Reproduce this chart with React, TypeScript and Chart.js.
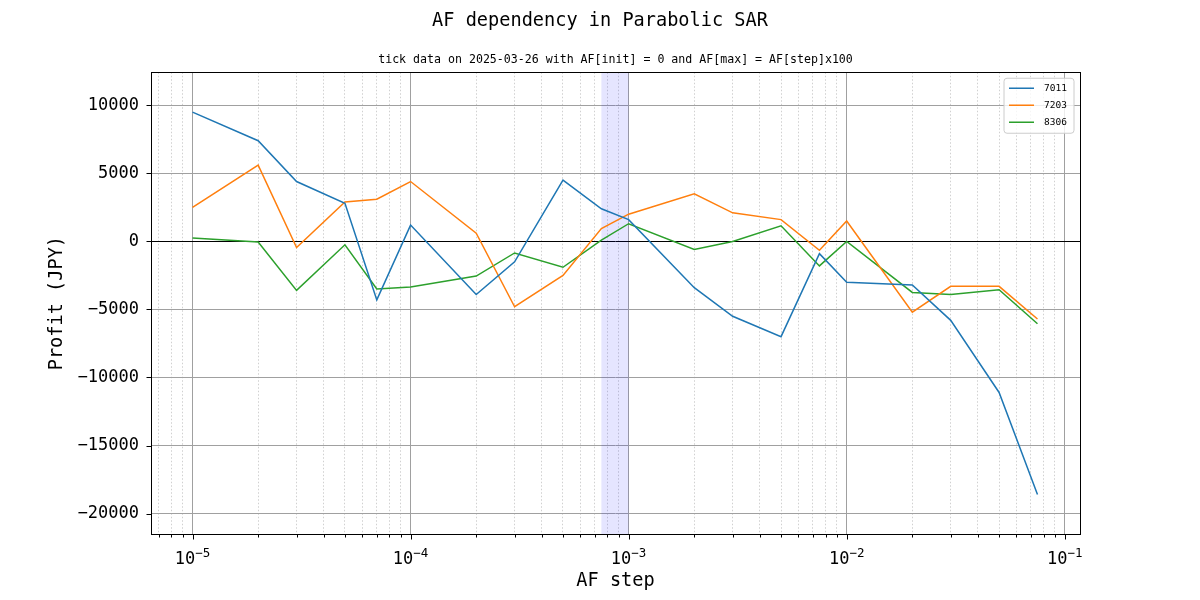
import React, { useEffect, useRef } from "react";
import { Chart, registerables } from "chart.js";

Chart.register(...registerables);

// ---- data ----
const afSteps = [1e-5, 2e-5, 3e-5, 5e-5, 7e-5, 1e-4, 2e-4, 3e-4, 5e-4, 7.5e-4, 1e-3, 2e-3, 3e-3, 5e-3, 7.5e-3, 1e-2, 2e-2, 3e-2, 5e-2, 7.5e-2];
const profit7011 = [9500, 7400, 4400, 2800, -4300, 1200, -3900, -1500, 4500, 2400, 1600, -3400, -5500, -7000, -900, -3000, -3200, -5800, -11100, -18600];
const profit7203 = [2500, 5600, -450, 2900, 3100, 4400, 600, -4800, -2500, 950, 2000, 3500, 2100, 1600, -650, 1500, -5200, -3300, -3300, -5700];
const profit8306 = [250, -50, -3600, -250, -3500, -3350, -2550, -850, -1900, 100, 1300, -600, 0, 1150, -1800, 0, -3750, -3900, -3550, -6050];
const seriesNames = ["7011", "7203", "8306"];
const seriesValues = [profit7011, profit7203, profit8306];
const seriesColors = ["#1f77b4", "#ff7f0e", "#2ca02c"];

const decades = [1e-6, 1e-5, 1e-4, 1e-3, 1e-2, 1e-1];
const minorMultipliers = [2, 3, 4, 5, 6, 7, 8, 9];
const yTicks = [-20000, -15000, -10000, -5000, 0, 5000, 10000];
const spanRange = [7.5e-4, 1e-3];
const xLimits = [6.45e-6, 0.1175];
const yLimits = [-21500, 12430];

const titleText = "AF dependency in Parabolic SAR";
const subtitleText = "tick data on 2025-03-26 with AF[init] = 0 and AF[max] = AF[step]x100";
const xTitle = "AF step";
const yTitle = "Profit (JPY)";

const FONT = "'DejaVu Sans Mono', 'Liberation Mono', monospace";

function isDecade(v: number) {
  const e = Math.round(Math.log10(v));
  return Math.abs(v / Math.pow(10, e) - 1) < 1e-6;
}

function xTickValues(): number[] {
  const out: number[] = [];
  decades.forEach((d) => {
    out.push(d);
    minorMultipliers.forEach((m) => out.push(d * m));
  });
  return out.filter((v) => v >= xLimits[0] && v <= xLimits[1]).sort((a, b) => a - b);
}

const spanPlugin = {
  id: "afSpan",
  beforeDatasetsDraw(chart: any) {
    const { ctx, chartArea, scales } = chart;
    const a = scales.x.getPixelForValue(spanRange[0]);
    const b = scales.x.getPixelForValue(spanRange[1]);
    ctx.save();
    ctx.fillStyle = "rgba(0,0,255,0.1)";
    ctx.fillRect(a, chartArea.top, b - a, chartArea.bottom - chartArea.top);
    ctx.restore();
  },
};

const framePlugin = {
  id: "frameTicks",
  afterDatasetsDraw(chart: any) {
    const { ctx, chartArea, scales } = chart;
    const { left, right, top, bottom } = chartArea;
    ctx.save();
    ctx.strokeStyle = "#000";
    ctx.lineWidth = 1;
    ctx.strokeRect(Math.round(left) + 0.5, Math.round(top) + 0.5, Math.round(right - left), Math.round(bottom - top));
    ctx.beginPath();
    scales.x.ticks.forEach((t: any) => {
      const px = Math.round(scales.x.getPixelForValue(t.value)) + 0.5;
      const len = isDecade(t.value) ? 5 : 3;
      ctx.moveTo(px, Math.round(bottom) + 0.5);
      ctx.lineTo(px, Math.round(bottom) + 0.5 + len);
    });
    scales.y.ticks.forEach((t: any) => {
      const py = Math.round(scales.y.getPixelForValue(t.value)) + 0.5;
      ctx.moveTo(Math.round(left) + 0.5, py);
      ctx.lineTo(Math.round(left) + 0.5 - 5, py);
    });
    ctx.stroke();
    ctx.restore();
  },
  afterDraw(chart: any) {
    const { ctx, chartArea, scales } = chart;
    // x decade labels: "10" with raised exponent
    ctx.save();
    ctx.fillStyle = "#000";
    ctx.textAlign = "left";
    ctx.textBaseline = "alphabetic";
    const baseY = chartArea.bottom + 30;
    scales.x.ticks.forEach((t: any) => {
      if (!isDecade(t.value)) return;
      const e = Math.round(Math.log10(t.value));
      const mant = "10";
      const expo = (e < 0 ? "\u2212" : "") + Math.abs(e);
      ctx.font = `17px ${FONT}`;
      const w1 = ctx.measureText(mant).width;
      ctx.font = `12.5px ${FONT}`;
      const w2 = ctx.measureText(expo).width;
      const px = scales.x.getPixelForValue(t.value);
      const x0 = px - (w1 + w2) / 2;
      ctx.font = `17px ${FONT}`;
      ctx.fillText(mant, x0, baseY);
      ctx.font = `12.5px ${FONT}`;
      ctx.fillText(expo, x0 + w1, baseY - 7);
    });
    ctx.restore();

    // legend
    const w = 70;
    const h = 55;
    const x0 = chartArea.right - 6 - w;
    const y0 = chartArea.top + 6;
    ctx.save();
    ctx.beginPath();
    const r = 3;
    ctx.moveTo(x0 + r, y0);
    ctx.lineTo(x0 + w - r, y0);
    ctx.quadraticCurveTo(x0 + w, y0, x0 + w, y0 + r);
    ctx.lineTo(x0 + w, y0 + h - r);
    ctx.quadraticCurveTo(x0 + w, y0 + h, x0 + w - r, y0 + h);
    ctx.lineTo(x0 + r, y0 + h);
    ctx.quadraticCurveTo(x0, y0 + h, x0, y0 + h - r);
    ctx.lineTo(x0, y0 + r);
    ctx.quadraticCurveTo(x0, y0, x0 + r, y0);
    ctx.closePath();
    ctx.fillStyle = "rgba(255,255,255,0.8)";
    ctx.fill();
    ctx.strokeStyle = "#cccccc";
    ctx.lineWidth = 1;
    ctx.stroke();
    ctx.font = `9.5px ${FONT}`;
    ctx.textBaseline = "middle";
    ctx.textAlign = "left";
    seriesNames.forEach((name, i) => {
      const yy = y0 + 10 + i * 17;
      ctx.strokeStyle = seriesColors[i];
      ctx.lineWidth = 1.5;
      ctx.beginPath();
      ctx.moveTo(x0 + 5, yy);
      ctx.lineTo(x0 + 30, yy);
      ctx.stroke();
      ctx.fillStyle = "#000";
      ctx.fillText(name, x0 + 40, yy);
    });
    ctx.restore();
  },
};

export default function App() {
  const canvasRef = useRef<HTMLCanvasElement | null>(null);

  useEffect(() => {
    document.body.style.margin = "0";
    const canvas = canvasRef.current;
    if (!canvas) return;
    Chart.defaults.color = "#000";
    Chart.defaults.font.family = FONT;

    const chart = new Chart(canvas, {
      type: "line",
      data: {
        datasets: seriesNames.map((name, i) => ({
          label: name,
          data: afSteps.map((x, j) => ({ x, y: seriesValues[i][j] })),
          borderColor: seriesColors[i],
          backgroundColor: seriesColors[i],
          borderWidth: 1.5,
          pointRadius: 0,
          tension: 0,
          fill: false,
          yAxisID: "y",
        })),
      },
      options: {
        animation: false,
        responsive: false,
        devicePixelRatio: 1,
        layout: { padding: { left: 0, right: 0, top: 0, bottom: 0 } },
        plugins: {
          legend: { display: false },
          tooltip: { enabled: false },
          title: {
            display: true,
            text: titleText,
            color: "#000",
            font: { family: FONT, size: 18.6, weight: "normal" },
            padding: { top: 10, bottom: 17 },
          },
          subtitle: {
            display: true,
            fullSize: false,
            text: subtitleText,
            color: "#000",
            font: { family: FONT, size: 11.6, weight: "normal" },
            padding: { top: 4, bottom: 5 },
          },
        },
        scales: {
          x: {
            type: "logarithmic",
            min: xLimits[0],
            max: xLimits[1],
            afterBuildTicks: (s: any) => {
              s.ticks = xTickValues().map((v) => ({ value: v }));
            },
            afterFit: (s: any) => {
              s.height = 66;
            },
            ticks: {
              autoSkip: false,
              maxRotation: 0,
              minRotation: 0,
              padding: 12,
              color: "#000",
              font: { family: FONT, size: 17 },
              callback: () => "",
            },
            grid: {
              drawTicks: false,
              color: (c: any) => (c.tick && isDecade(c.tick.value) ? "#a0a0a0" : "#c4c4c4"),
              lineWidth: (c: any) => (c.tick && isDecade(c.tick.value) ? 1 : 0.8),
            },
            border: {
              display: false,
              dash: (c: any) => (c.tick && isDecade(c.tick.value) ? [] : [1.5, 2]),
            },
            title: {
              display: true,
              text: xTitle,
              color: "#000",
              font: { family: FONT, size: 18.6 },
              padding: { top: 0, bottom: 8 },
            },
          },
          y: {
            type: "linear",
            position: "left",
            min: yLimits[0],
            max: yLimits[1],
            afterBuildTicks: (s: any) => {
              s.ticks = yTicks.map((v) => ({ value: v }));
            },
            afterFit: (s: any) => {
              s.width = 151;
            },
            ticks: {
              padding: 12,
              color: "#000",
              font: { family: FONT, size: 17 },
              callback: (v: any) => (Number(v) < 0 ? "\u2212" + Math.abs(Number(v)) : String(v)),
            },
            grid: {
              drawTicks: false,
              color: (c: any) => (c.tick && c.tick.value === 0 ? "#000" : "#a0a0a0"),
              lineWidth: 1,
            },
            border: { display: false },
            title: {
              display: true,
              text: yTitle,
              color: "#000",
              font: { family: FONT, size: 18.6 },
              padding: { top: 46, bottom: 0 },
            },
          },
          spacer: {
            type: "linear",
            position: "right",
            display: true,
            afterFit: (s: any) => {
              s.width = 120;
            },
            ticks: { display: false },
            grid: { display: false, drawTicks: false },
            border: { display: false },
          },
        },
      },
      plugins: [spanPlugin, framePlugin],
    } as any);

    return () => {
      chart.destroy();
    };
  }, []);

  return (
    <div style={{ position: "absolute", left: 0, top: 0, width: 1200, height: 600, background: "#fff" }}>
      <canvas ref={canvasRef} width={1200} height={600} style={{ width: 1200, height: 600 }} />
    </div>
  );
}
